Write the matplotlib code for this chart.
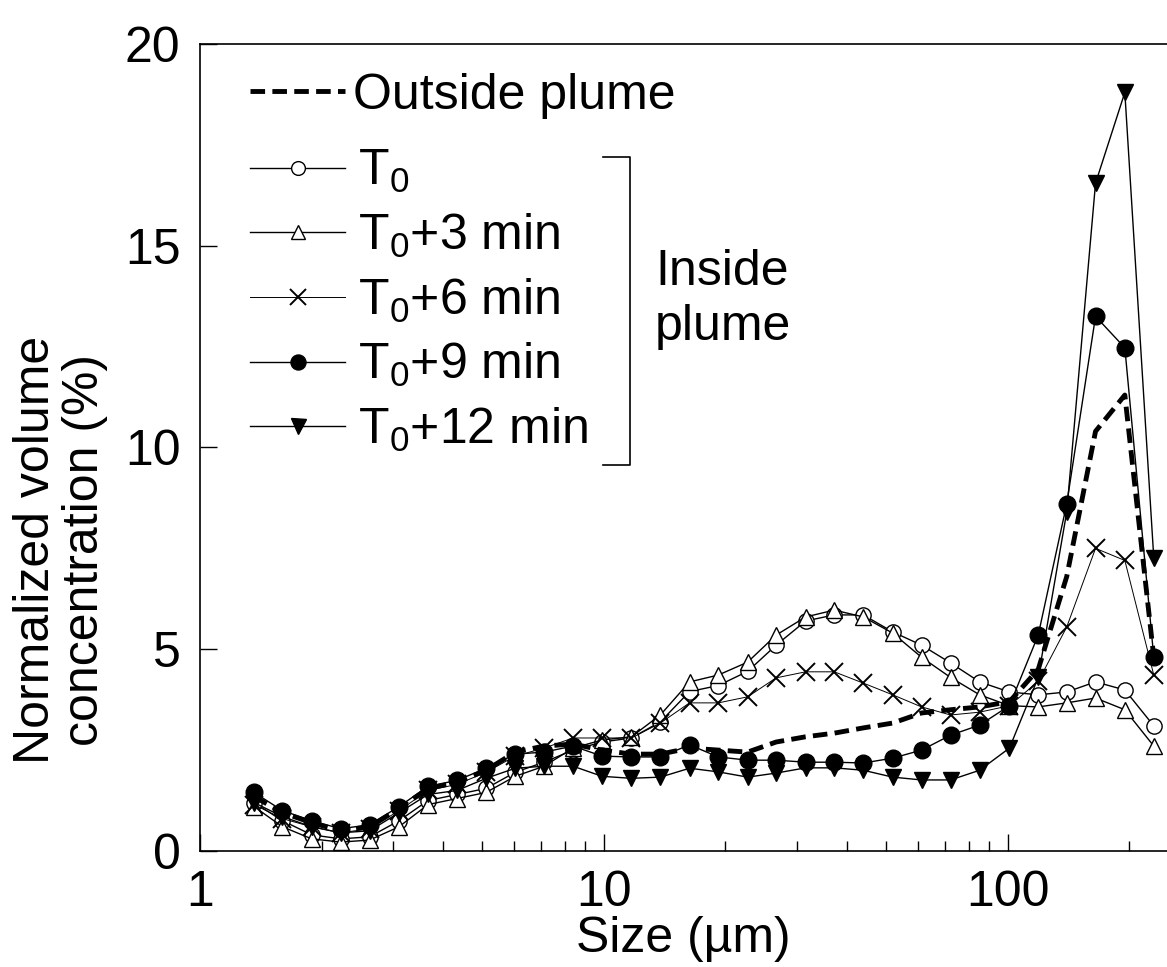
import numpy as np
import matplotlib
matplotlib.use("Agg")
import matplotlib.pyplot as plt

plt.rcParams['font.family'] = ['Liberation Sans', 'DejaVu Sans']
plt.rcParams['mathtext.fontset'] = 'custom'
plt.rcParams['mathtext.rm'] = 'Liberation Sans'

# Size bins (um)
sizes = [1.36, 1.60, 1.89, 2.23, 2.63, 3.11, 3.67, 4.33, 5.11, 6.03, 7.11, 8.39,
         9.90, 11.7, 13.8, 16.3, 19.2, 22.7, 26.7, 31.6, 37.2, 43.9, 51.9, 61.2,
         72.2, 85.2, 101, 119, 140, 165, 195, 230]

# Normalized volume concentration (%)
t0 = [1.2, 0.75, 0.4, 0.3, 0.35, 0.75, 1.25, 1.4, 1.55, 1.95, 2.2, 2.5,
      2.7, 2.8, 3.2, 3.95, 4.1, 4.45, 5.1, 5.7, 5.85, 5.85, 5.43, 5.1,
      4.66, 4.19, 3.94, 3.87, 3.94, 4.19, 3.99, 3.1]
t3 = [1.1, 0.6, 0.3, 0.22, 0.27, 0.6, 1.15, 1.3, 1.45, 1.85, 2.1, 2.55,
      2.75, 2.83, 3.37, 4.19, 4.36, 4.68, 5.35, 5.8, 5.97, 5.8, 5.4, 4.8,
      4.3, 3.87, 3.6, 3.57, 3.67, 3.79, 3.5, 2.6]
t6 = [1.15, 0.8, 0.6, 0.45, 0.55, 1.0, 1.5, 1.65, 1.95, 2.35, 2.55, 2.8,
      2.8, 2.8, 3.17, 3.67, 3.67, 3.82, 4.29, 4.44, 4.44, 4.16, 3.87, 3.57,
      3.37, 3.44, 3.6, 4.2, 5.55, 7.5, 7.2, 4.36]
t9 = [1.45, 1.0, 0.75, 0.55, 0.65, 1.1, 1.6, 1.75, 2.05, 2.4, 2.45, 2.6,
      2.35, 2.33, 2.33, 2.63, 2.33, 2.25, 2.25, 2.2, 2.2, 2.18, 2.3, 2.5,
      2.87, 3.12, 3.6, 5.35, 8.6, 13.25, 12.47, 4.8]
t12 = [1.2, 0.85, 0.6, 0.45, 0.5, 0.95, 1.4, 1.5, 1.8, 2.05, 2.1, 2.1,
       1.85, 1.8, 1.83, 2.05, 1.96, 1.83, 1.93, 2.06, 2.06, 2.0, 1.83, 1.76,
       1.76, 2.0, 2.55, 4.3, 8.4, 16.55, 18.8, 7.26]
outside = [1.35, 0.95, 0.7, 0.5, 0.6, 1.05, 1.55, 1.7, 2.0, 2.45, 2.6, 2.65,
           2.5, 2.4, 2.4, 2.55, 2.5, 2.45, 2.7, 2.83, 2.92, 3.05, 3.17, 3.42,
           3.5, 3.57, 3.7, 4.5, 6.8, 10.4, 11.3, 4.8]

labels = [r'$\mathregular{T_0}$', r'$\mathregular{T_0}$+3 min', r'$\mathregular{T_0}$+6 min',
          r'$\mathregular{T_0}$+9 min', r'$\mathregular{T_0}$+12 min']

fig = plt.figure(figsize=(11.67, 9.67), dpi=100)
ax = fig.add_axes([0.1714, 0.12, 0.8286, 0.8345])

h0, = ax.plot(sizes, t0, color='black', lw=1.0, marker='o', ms=11, mfc='white', mec='black', mew=1.0)
h3, = ax.plot(sizes, t3, color='black', lw=1.0, marker='^', ms=11, mfc='white', mec='black', mew=1.0)
h6, = ax.plot(sizes, t6, color='black', lw=0.7, marker='x', ms=13, mec='black', mew=1.4)
h9, = ax.plot(sizes, t9, color='black', lw=1.0, marker='o', ms=12, mfc='black', mec='black')
h12, = ax.plot(sizes, t12, color='black', lw=1.0, marker='v', ms=12, mfc='black', mec='black')
hout, = ax.plot(sizes, outside, color='black', lw=3.5, ls=(0, (3, 1.5)))

ax.set_xscale('log')
ax.set_xlim(1, 248)
ax.set_ylim(0, 20)
ax.set_yticks([0, 5, 10, 15, 20])
ax.set_xticks([1, 10, 100])
ax.set_xticklabels(['1', '10', '100'])
ax.spines['right'].set_visible(False)
for s in ['left', 'bottom', 'top']:
    ax.spines[s].set_linewidth(1.2)
ax.tick_params(axis='both', which='major', direction='in', length=12, width=1.0,
               labelsize=36, pad=14)
ax.tick_params(axis='x', which='minor', direction='in', length=7, width=1.0)
ax.tick_params(axis='y', which='minor', left=False)

ax.set_xlabel('Size (µm)', fontsize=36, labelpad=0)
ax.set_ylabel('Normalized volume\nconcentration (%)', fontsize=36, linespacing=1.1)
ax.yaxis.set_label_coords(-0.095, 0.373)

# legends
leg1 = ax.legend([hout], ['Outside plume'], loc='center left', bbox_to_anchor=(0.052, 0.9356),
                 frameon=False, fontsize=36, handlelength=1.9, handletextpad=0.15,
                 borderpad=0, borderaxespad=0)
ax.add_artist(leg1)
ax.legend([h0, h3, h6, h9, h12], labels, loc='center left', bbox_to_anchor=(0.052, 0.6815),
          frameon=False, fontsize=36, handlelength=1.9, handletextpad=0.25,
          borderpad=0, borderaxespad=0, labelspacing=0.33, markerscale=0.9)

# bracket for "Inside plume"
ax.plot([0.4168, 0.4447, 0.4447, 0.4168], [0.86, 0.86, 0.478, 0.478],
        transform=ax.transAxes, color='black', lw=1.2, clip_on=False)
ax.text(0.4705, 0.6828, 'Inside\nplume', transform=ax.transAxes, fontsize=36,
        ha='left', va='center', linespacing=1.25)

fig.savefig('out.png', dpi=100)
